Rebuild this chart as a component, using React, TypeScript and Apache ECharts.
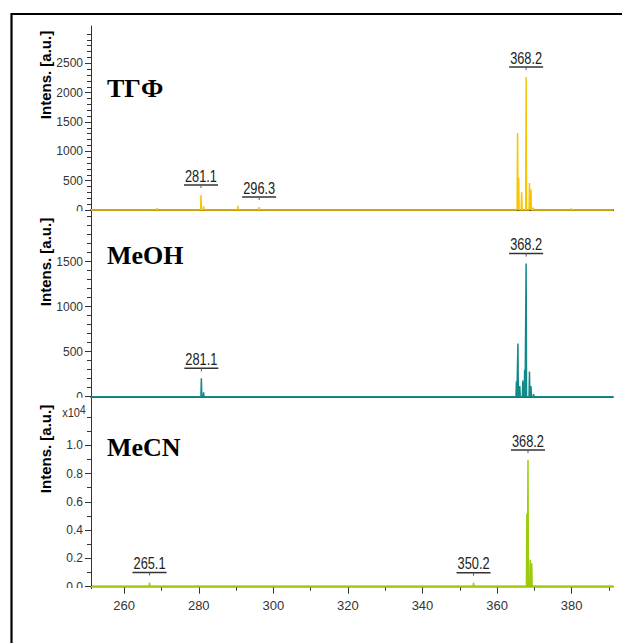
import React, { useEffect, useRef } from "react";
import * as echarts from "echarts";

// ---------- data ----------
const X_MIN = 251.1;
const X_MAX = 391.1;
const xMajorTicks = [260, 280, 300, 320, 340, 360, 380];
const xMinorTicks = [270, 290, 310, 330, 350, 370, 390];

// [m/z, intensity]
const thfPeaks: [number, number][] = [
  [268.8, 30], [280.6, 255], [281.3, 60], [290.5, 70], [296.2, 50],
  [365.5, 1310], [365.8, 545], [366.6, 300], [367.8, 2265], [368.7, 460],
  [369.1, 350], [369.7, 40], [379.9, 25],
];
const meohPeaks: [number, number][] = [
  [280.7, 205], [281.3, 50], [365.2, 170], [365.6, 590], [366.1, 120],
  [366.9, 180], [367.4, 300], [367.8, 1480], [368.7, 280], [369.1, 120], [369.8, 30],
];
const mecnPeaks: [number, number][] = [
  [266.8, 300], [279.8, 80], [353.7, 280], [368.0, 5180], [368.3, 8950],
  [368.9, 1900], [369.3, 1650], [370.4, 80], [389.3, 60],
];

// peak annotations: [m/z position of peak, label text]
const thfLabels: [number, string][] = [[280.6, "281.1"], [296.2, "296.3"], [367.8, "368.2"]];
const meohLabels: [number, string][] = [[280.7, "281.1"], [367.8, "368.2"]];
const mecnLabels: [number, string][] = [[266.8, "265.1"], [353.7, "350.2"], [368.3, "368.2"]];

const thfYTicks = [0, 500, 1000, 1500, 2000, 2500];
const meohYTicks = [0, 500, 1000, 1500];
const mecnYTicks = [0, 2000, 4000, 6000, 8000, 10000];

const panelNames = ["ТГФ", "MeOH", "MeCN"];
const yTitle = "Intens. [a.u.]";

// ---------- helpers ----------
const SANS = '"Liberation Sans", Arial, sans-serif';
const HALF = 0.12;

function spectrum(peaks: [number, number][]) {
  const pts: number[][] = [[X_MIN, 0]];
  peaks.forEach(([mz, v]) => {
    pts.push([mz - HALF, 0], [mz, v], [mz + HALF, 0]);
  });
  pts.push([X_MAX, 0]);
  return pts;
}
function labelData(peaks: [number, number][], labels: [number, string][]) {
  return labels.map(([mz]) => {
    const p = peaks.find((q) => q[0] === mz);
    return [mz, p ? p[1] : 0];
  });
}
function minorList(step: number, max: number) {
  const out: number[] = [];
  for (let v = step; v <= max + 1e-9; v += step) out.push(Math.round(v));
  return out;
}

function annotation(labels: [number, string][], peaks: [number, number][], xi: number, yi: number) {
  return {
    type: "custom",
    xAxisIndex: xi,
    yAxisIndex: yi,
    clip: false,
    z: 10,
    silent: true,
    data: labelData(peaks, labels),
    renderItem: (params: any, api: any) => {
      const p = api.coord([api.value(0), api.value(1)]);
      const text = labels[params.dataIndex][1];
      return {
        type: "group",
        children: [
          {
            type: "text",
            x: p[0],
            y: p[1] - 11,
            scaleX: 0.8,
            style: {
              text,
              align: "center",
              verticalAlign: "bottom",
              font: `16px ${SANS}`,
              fill: "#222",
            },
          },
          {
            type: "line",
            shape: { x1: p[0] - 17, y1: p[1] - 10, x2: p[0] + 17, y2: p[1] - 10 },
            style: { stroke: "#333", lineWidth: 1.5 },
          },
          {
            type: "line",
            shape: { x1: p[0], y1: p[1] - 10, x2: p[0], y2: p[1] - 7 },
            style: { stroke: "#555", lineWidth: 1 },
          },
        ],
      };
    },
  };
}

function majorY(grid: number, min: number, max: number, ticks: number[], fmt?: (v: number) => string) {
  return {
    type: "value",
    gridIndex: grid,
    position: "left",
    min,
    max,
    splitLine: { show: false },
    axisLine: { show: true, lineStyle: { color: "#333", width: 1 } },
    axisTick: { show: true, length: 6, customValues: ticks, lineStyle: { color: "#333" } },
    axisLabel: {
      show: true,
      customValues: ticks,
      margin: 8,
      color: "#333",
      fontFamily: SANS,
      fontSize: 12,
      formatter: fmt ? fmt : (v: number) => String(v),
    },
  };
}
function minorY(grid: number, min: number, max: number, ticks: number[]) {
  return {
    type: "value",
    gridIndex: grid,
    position: "left",
    offset: 0,
    min,
    max,
    splitLine: { show: false },
    axisLine: { show: false },
    axisTick: { show: true, length: 4, customValues: ticks, lineStyle: { color: "#333" } },
    axisLabel: { show: false },
  };
}

export default function App() {
  const ref = useRef<HTMLDivElement>(null);
  useEffect(() => {
    if (!ref.current) return;
    const chart = echarts.init(ref.current, undefined, { renderer: "svg" });

    const grids = [
      { left: 91, right: 9, top: 26, height: 186.5 },
      { left: 91, right: 9, top: 212.5, height: 186.2 },
      { left: 91, right: 9, top: 398.7, height: 190 },
    ];
    const yr = [
      [-43, 3136],
      [-22, 2047],
      [-141, 13286],
    ];

    const sepAxis = (grid: number) => ({
      type: "value",
      gridIndex: grid,
      position: "bottom",
      min: X_MIN,
      max: X_MAX,
      splitLine: { show: false },
      axisLine: { show: true, lineStyle: { color: "#555", width: 1.8 } },
      axisTick: { show: false },
      axisLabel: { show: false },
    });

    const option: any = {
      animation: false,
      backgroundColor: "#fff",
      grid: grids,
      xAxis: [
        sepAxis(0),
        {
          type: "value",
          gridIndex: 0,
          position: "top",
          min: X_MIN,
          max: X_MAX,
          splitLine: { show: false },
          axisLine: { show: true, lineStyle: { color: "#333", width: 1 } },
          axisTick: { show: false },
          axisLabel: { show: false },
        },
        sepAxis(1),
        {
          type: "value",
          gridIndex: 2,
          position: "bottom",
          min: X_MIN,
          max: X_MAX,
          splitLine: { show: false },
          axisLine: { show: true, lineStyle: { color: "#222", width: 1.3 } },
          axisTick: { show: true, length: 7, customValues: xMajorTicks, lineStyle: { color: "#333" } },
          axisLabel: {
            show: true,
            customValues: xMajorTicks,
            margin: 10,
            color: "#333",
            fontFamily: SANS,
            fontSize: 13,
          },
        },
        {
          type: "value",
          gridIndex: 2,
          position: "bottom",
          offset: 0,
          min: X_MIN,
          max: X_MAX,
          splitLine: { show: false },
          axisLine: { show: false },
          axisTick: { show: true, length: 4, customValues: xMinorTicks, lineStyle: { color: "#333" } },
          axisLabel: { show: false },
        },
      ],
      yAxis: [
        majorY(0, yr[0][0], yr[0][1], thfYTicks),
        minorY(0, yr[0][0], yr[0][1], minorList(100, 3000)),
        majorY(1, yr[1][0], yr[1][1], meohYTicks),
        minorY(1, yr[1][0], yr[1][1], minorList(100, 2000)),
        majorY(2, yr[2][0], yr[2][1], mecnYTicks, (v: number) => (v / 10000).toFixed(1)),
        minorY(2, yr[2][0], yr[2][1], minorList(1000, 12000)),
      ],
      series: [
        {
          type: "line",
          xAxisIndex: 0,
          yAxisIndex: 0,
          data: spectrum(thfPeaks),
          symbol: "none",
          lineStyle: { color: "#f7c600", width: 1.5 },
          itemStyle: { color: "#f7c600" },
        },
        {
          type: "line",
          xAxisIndex: 2,
          yAxisIndex: 2,
          data: spectrum(meohPeaks),
          symbol: "none",
          lineStyle: { color: "#14898a", width: 1.5 },
          itemStyle: { color: "#14898a" },
        },
        {
          type: "line",
          xAxisIndex: 3,
          yAxisIndex: 4,
          data: spectrum(mecnPeaks),
          symbol: "none",
          lineStyle: { color: "#9dcb0c", width: 1.5 },
          itemStyle: { color: "#9dcb0c" },
        },
        annotation(thfLabels, thfPeaks, 0, 0),
        annotation(meohLabels, meohPeaks, 2, 2),
        annotation(mecnLabels, mecnPeaks, 3, 4),
      ],
      graphic: [
        {
          type: "rect",
          z: 100,
          shape: { x: 11.5, y: 14, width: 700, height: 700 },
          style: { fill: "none", stroke: "#000", lineWidth: 2.2 },
        },
        // hide lower half of the zero labels (clipped in original)
        { type: "rect", z: 90, shape: { x: 60, y: 211.2, width: 24, height: 8 }, style: { fill: "#fff" } },
        { type: "rect", z: 90, shape: { x: 60, y: 397.7, width: 24, height: 7 }, style: { fill: "#fff" } },
        { type: "rect", z: 90, shape: { x: 60, y: 588, width: 24, height: 9 }, style: { fill: "#fff" } },
        ...[75, 262, 449].map((cy) => ({
          type: "text",
          z: 95,
          x: 45,
          y: cy,
          rotation: Math.PI / 2,
          style: {
            text: yTitle,
            align: "center",
            verticalAlign: "middle",
            font: `bold 15px ${SANS}`,
            fill: "#000",
          },
        })),
        ...[88, 255, 447.5].map((cy, i) => ({
          type: "text",
          z: 95,
          x: 107,
          y: cy,
          style: {
            text: panelNames[i],
            align: "left",
            verticalAlign: "middle",
            font: 'bold 26px "Liberation Serif", "Times New Roman", serif',
            fill: "#000",
          },
        })),
        {
          type: "text",
          z: 95,
          x: 80,
          y: 412.5,
          scaleX: 0.85,
          style: { text: "x10", align: "right", verticalAlign: "middle", font: `13px ${SANS}`, fill: "#333" },
        },
        {
          type: "text",
          z: 95,
          x: 80,
          y: 409.5,
          scaleX: 0.85,
          style: { text: "4", align: "left", verticalAlign: "middle", font: `12px ${SANS}`, fill: "#333" },
        },
      ],
    };
    chart.setOption(option);
    return () => chart.dispose();
  }, []);
  return (
    <div
      ref={ref}
      style={{ position: "fixed", left: 0, top: 0, width: 622, height: 643, background: "#fff" }}
    />
  );
}
